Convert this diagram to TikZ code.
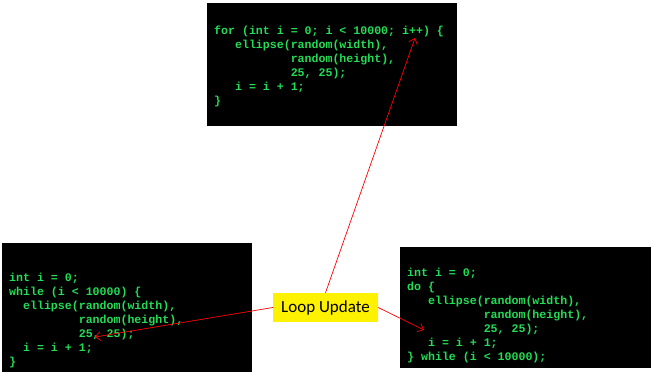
\documentclass[tikz,border=0pt]{standalone}
\usepackage{fontspec}
\setmainfont{Carlito}
\newfontfamily\codefont{Liberation Mono}
\usetikzlibrary{arrows.meta}
\definecolor{codegreen}{RGB}{34,221,85}
\tikzset{
    codebox/.style={fill=black,anchor=north west,inner sep=0pt},
    code/.style={anchor=north west,inner sep=0pt,align=left,text=codegreen,
        font=\codefont\bfseries\fontsize{11.6pt}{14pt}\selectfont},
    callout/.style={fill=yellow,inner sep=0pt,minimum width=105pt,minimum height=29pt,
        font=\fontsize{17pt}{20pt}\selectfont},
    pointer/.style={red,line width=0.7pt,-{Straight Barb[length=5pt,width=9pt]}}
}
\begin{document}
\begin{tikzpicture}[x=1pt,y=-1pt]
        \useasboundingbox (0,0) rectangle (654,372);
        \node[codebox,minimum width=250pt,minimum height=123pt] (forbox) at (207,3) {};
        \node[codebox,minimum width=250pt,minimum height=129pt] (whilebox) at (2,243) {};
        \node[codebox,minimum width=251pt,minimum height=121pt] (dobox) at (400,247) {};
        \node[code] (forcode) at (214,25.5) {for (int i = 0; i < 10000; i++) \{\\
~~~ellipse(random(width),\\
~~~~~~~~~~~random(height),\\
~~~~~~~~~~~25, 25);\\
~~~i = i + 1;\\
\}};
        \node[code] (whilecode) at (9,272.5) {int i = 0;\\
while (i < 10000) \{\\
~~ellipse(random(width),\\
~~~~~~~~~~random(height),\\
~~~~~~~~~~25, 25);\\
~~i = i + 1;\\
\}};
        \node[code] (docode) at (407,267.5) {int i = 0;\\
do \{\\
~~~ellipse(random(width),\\
~~~~~~~~~~~random(height),\\
~~~~~~~~~~~25, 25);\\
~~~i = i + 1;\\
\} while (i < 10000);};
        \node[callout] (update) at (325.5,307.5) {Loop Update};
        \coordinate (forstep) at (415,38);
        \coordinate (whilestep) at (95,337);
        \coordinate (dostep) at (424,330);
        \draw[pointer]
        (update.north) -- (forstep)
        ;
        \draw[pointer]
        (update.west) -- (whilestep)
        ;
        \draw[pointer]
        (update.east) -- (dostep)
        ;
    \end{tikzpicture}
\end{document}
